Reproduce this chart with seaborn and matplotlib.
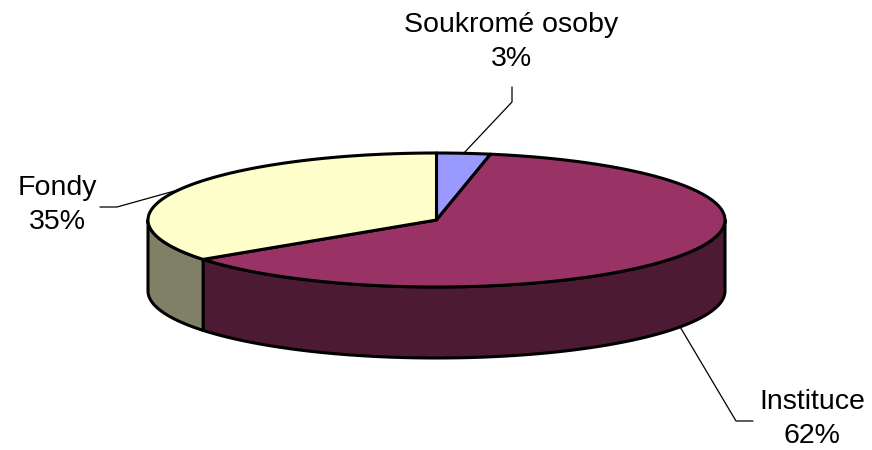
import numpy as np
import matplotlib
matplotlib.use("Agg")
import matplotlib.pyplot as plt
from matplotlib.patches import Polygon
import seaborn as sns

# --- data ---
labels = ["Soukromé osoby", "Instituce", "Fondy"]
values = [3, 62, 35]
top_colors = ["#9999FF", "#993366", "#FFFFCC"]
side_colors = ["#4D4D80", "#4D1A33", "#808066"]

# --- layout (pixels) ---
CX, CY = 436.5, 220.0      # ellipse centre
RA, RB = 288.5, 67.0       # semi axes
DEPTH = 71.0               # height of the pie wall
START = 90.0               # first slice begins at 12 o'clock, clockwise

label_pos = [(511, 42), (812, 419), (57, 205)]
elbow_pos = [(512, 102), (736, 421), (117, 207)]
tail_pos = [(512, 87), (753, 421), (100, 207)]

sns.set_theme(style="white")
plt.rcParams["font.family"] = ["Liberation Sans", "DejaVu Sans"]


def pt(theta, dz=0.0):
    t = np.radians(theta)
    return CX + RA * np.cos(t), CY - RB * np.sin(t) + dz


def arc(t1, t2, dz=0.0, n=200):
    th = np.linspace(t1, t2, n)
    t = np.radians(th)
    return np.column_stack([CX + RA * np.cos(t), CY - RB * np.sin(t) + dz])


fig = plt.figure(figsize=(8.72, 4.5), dpi=100)
ax = fig.add_axes([0, 0, 1, 1])
ax.set_xlim(0, 872)
ax.set_ylim(450, 0)
ax.axis("off")

# slice angle ranges (clockwise => decreasing theta)
total = sum(values)
ranges = []
a = START
for v in values:
    b = a - 360.0 * v / total
    ranges.append((b, a))
    a = b

# walls: only the front half (sin < 0) is visible
for (lo, hi), col in zip(ranges, side_colors):
    for off in (0, -360, 360):
        s = max(lo + off, -180.0)
        e = min(hi + off, 0.0)
        if e > s:
            top = arc(s, e)
            bot = arc(e, s, DEPTH)
            ax.add_patch(Polygon(np.vstack([top, bot]), closed=True,
                                 facecolor=col, edgecolor="black", lw=2.2,
                                 joinstyle="round", zorder=2))

# top faces
for (lo, hi), col in zip(ranges, top_colors):
    pts = np.vstack([[CX, CY], arc(hi, lo)])
    ax.add_patch(Polygon(pts, closed=True, facecolor=col, edgecolor="black",
                         lw=2.2, joinstyle="round", zorder=3))

# labels with leader lines
for i, ((lo, hi), lab, v) in enumerate(zip(ranges, labels, values)):
    mid = (lo + hi) / 2.0
    dz = DEPTH if np.sin(np.radians(mid)) < 0 else 0.0
    ax_, ay_ = pt(mid, dz)
    ex, ey = elbow_pos[i]
    tx, ty = tail_pos[i]
    ax.plot([ax_, ex, tx], [ay_, ey, ty], color="black", lw=0.9, zorder=4)
    lx, ly = label_pos[i]
    ax.text(lx, ly, f"{lab}\n{v}%", ha="center", va="center",
            fontsize=20.5, linespacing=1.38, color="black", zorder=5)

fig.savefig("out.png", dpi=100, facecolor="white")
